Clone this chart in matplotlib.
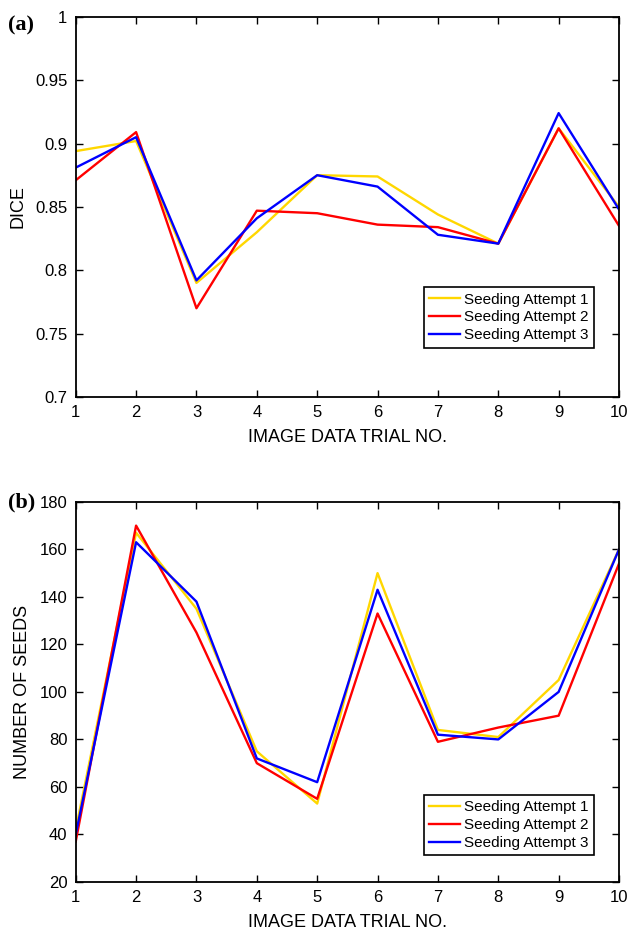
import matplotlib
matplotlib.use('Agg')
import matplotlib.pyplot as plt
from matplotlib.ticker import FuncFormatter

trials = [1, 2, 3, 4, 5, 6, 7, 8, 9, 10]
labels = ['Seeding Attempt 1', 'Seeding Attempt 2', 'Seeding Attempt 3']
colors = ['#FFD700', '#FF0000', '#0000FF']

dice_1 = [0.894, 0.902, 0.790, 0.830, 0.875, 0.874, 0.844, 0.821, 0.912, 0.850]
dice_2 = [0.871, 0.909, 0.770, 0.847, 0.845, 0.836, 0.834, 0.821, 0.912, 0.835]
dice_3 = [0.881, 0.905, 0.792, 0.841, 0.875, 0.866, 0.828, 0.821, 0.924, 0.848]

seeds_1 = [42, 167, 135, 75, 53, 150, 84, 81, 105, 160]
seeds_2 = [37, 170, 125, 70, 55, 133, 79, 85, 90, 154]
seeds_3 = [40, 163, 138, 72, 62, 143, 82, 80, 100, 160]

plt.rcParams['font.family'] = ['Liberation Sans', 'DejaVu Sans']

fig = plt.figure(figsize=(6.31, 9.34), dpi=100)
ax_a = fig.add_axes([0.120, 0.575, 0.861, 0.407])
ax_b = fig.add_axes([0.120, 0.0557, 0.861, 0.407])


def style_axis(ax, ylabel, yticks):
    ax.set_xlim(1, 10)
    ax.set_xticks(trials)
    ax.set_yticks(yticks)
    ax.set_ylim(yticks[0], yticks[-1])
    ax.yaxis.set_major_formatter(FuncFormatter(lambda v, p: '%g' % round(v, 3)))
    ax.tick_params(direction='in', top=True, right=True, length=5, width=1,
                   labelsize=12, pad=6)
    for s in ax.spines.values():
        s.set_linewidth(1.3)
    ax.set_xlabel('IMAGE DATA TRIAL NO.', fontsize=13, labelpad=6)
    ax.set_ylabel(ylabel, fontsize=13, labelpad=6)


def add_legend(ax, y_anchor):
    leg = ax.legend(loc='lower right', bbox_to_anchor=(0.954, y_anchor), fontsize=11,
                    frameon=True, fancybox=False, edgecolor='black', framealpha=1,
                    handlelength=2.0, handletextpad=0.3, borderpad=0.35,
                    labelspacing=0.25, borderaxespad=0)
    leg.get_frame().set_linewidth(1.2)


for ys, c, lab in zip([dice_1, dice_2, dice_3], colors, labels):
    ax_a.plot(trials, ys, color=c, lw=1.7, label=lab)
style_axis(ax_a, 'DICE', [0.7, 0.75, 0.8, 0.85, 0.9, 0.95, 1.0])
add_legend(ax_a, 0.13)

for ys, c, lab in zip([seeds_1, seeds_2, seeds_3], colors, labels):
    ax_b.plot(trials, ys, color=c, lw=1.7, label=lab)
style_axis(ax_b, 'NUMBER OF SEEDS', [20, 40, 60, 80, 100, 120, 140, 160, 180])
add_legend(ax_b, 0.07)

fig.text(0.012, 0.973, '(a)', fontsize=16, fontweight='bold',
         family='Liberation Serif', ha='left', va='center')
fig.text(0.012, 0.462, '(b)', fontsize=16, fontweight='bold',
         family='Liberation Serif', ha='left', va='center')

fig.savefig('out.png', dpi=100)
